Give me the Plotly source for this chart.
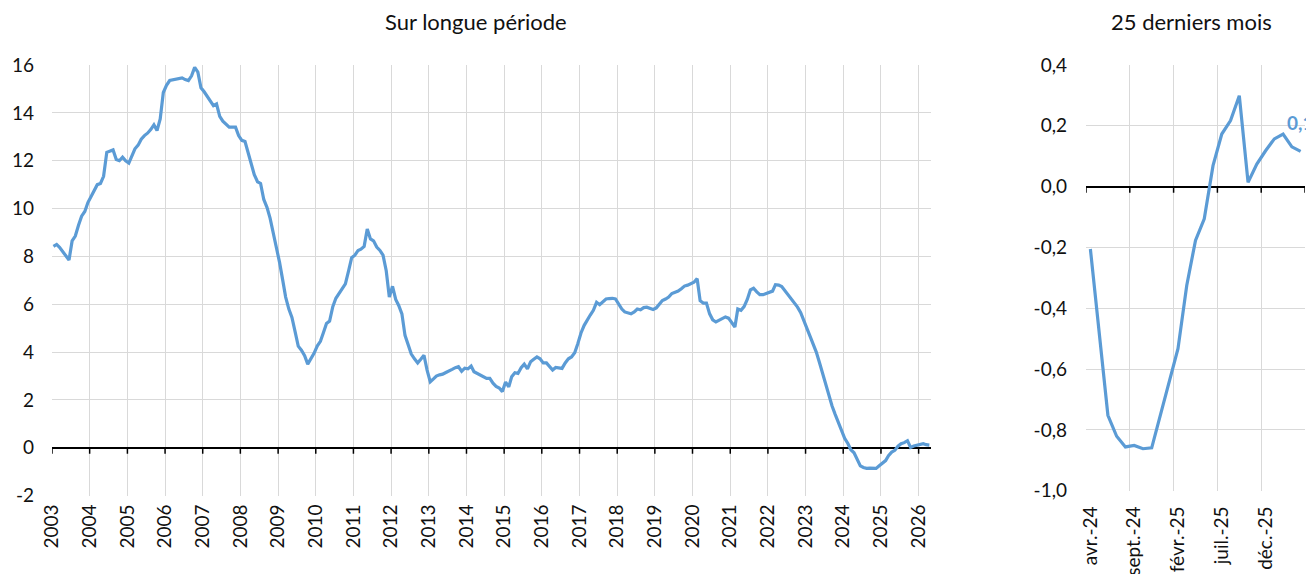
import pandas as pd
import plotly.graph_objects as go

# Monthly values, Jan 2003 -> Apr 2026 (one row per year)
monthly_values = [
    8.42, 8.5, 8.38, 8.2, 8.0, 7.85, 8.65, 8.85, 9.3, 9.68, 9.88, 10.25,          # 2003
    10.5, 10.75, 11.0, 11.05, 11.35, 12.35, 12.4, 12.45, 12.05, 12.0, 12.15, 12.0,  # 2004
    11.9, 12.2, 12.5, 12.65, 12.9, 13.05, 13.15, 13.3, 13.5, 13.26, 13.75, 14.85,  # 2005
    15.15, 15.35, 15.37, 15.42, 15.42, 15.46, 15.39, 15.35, 15.55, 15.9, 15.7, 15.05,  # 2006
    14.88, 14.68, 14.45, 14.3, 14.37, 13.85, 13.65, 13.52, 13.4, 13.4, 13.4, 13.05,  # 2007
    12.85, 12.8, 12.38, 11.95, 11.42, 11.12, 11.05, 10.38, 10.05, 9.6, 9.0, 8.45,  # 2008
    7.75, 7.0, 6.3, 5.8, 5.45, 4.85, 4.25, 4.08, 3.85, 3.5, 3.7, 3.95,  # 2009
    4.25, 4.45, 4.8, 5.2, 5.3, 5.9, 6.25, 6.45, 6.62, 6.85, 7.4, 7.95,  # 2010
    8.05, 8.25, 8.3, 8.42, 9.15, 8.73, 8.65, 8.39, 8.25, 8.05, 7.4, 6.3,  # 2011
    6.75, 6.2, 5.95, 5.6, 4.7, 4.3, 3.92, 3.72, 3.55, 3.7, 3.87, 3.25,  # 2012
    2.76, 2.88, 3.0, 3.05, 3.08, 3.15, 3.2, 3.28, 3.35, 3.39, 3.2, 3.33,  # 2013
    3.3, 3.42, 3.18, 3.1, 3.02, 2.95, 2.9, 2.9, 2.7, 2.57, 2.5, 2.35,  # 2014
    2.75, 2.55, 2.97, 3.14, 3.11, 3.35, 3.5, 3.3, 3.6, 3.7, 3.8, 3.72,  # 2015
    3.55, 3.55, 3.38, 3.25, 3.36, 3.33, 3.32, 3.55, 3.72, 3.8, 3.97, 4.35,  # 2016
    4.8, 5.12, 5.35, 5.55, 5.75, 6.08, 5.98, 6.12, 6.22, 6.24, 6.25, 6.22,  # 2017
    6.0, 5.8, 5.68, 5.63, 5.6, 5.68, 5.8, 5.77, 5.86, 5.88, 5.84, 5.78,  # 2018
    5.85, 6.0, 6.16, 6.22, 6.3, 6.45, 6.5, 6.55, 6.65, 6.76, 6.8, 6.85,  # 2019
    6.92, 7.07, 6.15, 6.05, 6.05, 5.6, 5.35, 5.26, 5.32, 5.4, 5.47, 5.42,  # 2020
    5.25, 5.05, 5.8, 5.75, 5.9, 6.2, 6.6, 6.67, 6.52, 6.4, 6.4, 6.45,  # 2021
    6.47, 6.55, 6.82, 6.8, 6.74, 6.57, 6.37, 6.22, 6.05, 5.88, 5.65, 5.28,  # 2022
    4.98, 4.65, 4.35, 4.0, 3.58, 3.1, 2.65, 2.22, 1.75, 1.4, 1.05, 0.7,  # 2023
    0.4, 0.18, -0.08, -0.205, -0.47, -0.752, -0.821, -0.856, -0.851, -0.862, -0.859, -0.75,  # 2024
    -0.64, -0.533, -0.325, -0.177, -0.106, 0.069, 0.173, 0.217, 0.299, 0.014, 0.074, 0.118,  # 2025
    0.157, 0.173, 0.131, 0.116,  # 2026
]

# Last 25 months (right panel)
recent_labels = [
    "avr.-24", "mai-24", "juin-24", "juil.-24", "août-24", "sept.-24", "oct.-24",
    "nov.-24", "déc.-24", "janv.-25", "févr.-25", "mars-25", "avr.-25", "mai-25",
    "juin-25", "juil.-25", "août-25", "sept.-25", "oct.-25", "nov.-25", "déc.-25",
    "janv.-26", "févr.-26", "mars-26", "avr.-26",
]
recent_values = monthly_values[-len(recent_labels):]

years = list(range(2003, 2027))
left_ticks = [-2, 0, 2, 4, 6, 8, 10, 12, 14, 16]
right_ticks = [-1.0, -0.8, -0.6, -0.4, -0.2, 0.0, 0.2, 0.4]
right_ticktext = [f"{v:.1f}".replace(".", ",") for v in right_ticks]
left_title = "Sur longue période"
right_title = "25 derniers mois"

BLUE = "#5B9BD5"
GRID = "#D9D9D9"
FONT = "Lato"
TXT = "#111111"

# the page adds an 8px body margin, so the figure is 8px smaller and
# every target pixel position is shifted by -8
OFF = 8
W, H = 1314 - OFF, 574 - OFF


def px(v):
    return (v - OFF) / W


def py(v):
    return 1 - (v - OFF) / H


dates = pd.date_range("2003-01-01", periods=len(monthly_values), freq="MS") + pd.Timedelta(days=14)
recent_x = list(range(len(recent_labels)))

fig = go.Figure()
fig.add_trace(go.Scatter(x=dates, y=monthly_values, mode="lines",
                         line=dict(color=BLUE, width=3.2), xaxis="x", yaxis="y",
                         hoverinfo="skip", showlegend=False))
fig.add_trace(go.Scatter(x=recent_x, y=recent_values, mode="lines",
                         line=dict(color=BLUE, width=3.2), xaxis="x2", yaxis="y2",
                         hoverinfo="skip", showlegend=False))

tickfont = dict(family=FONT, size=19, color=TXT)

fig.update_layout(
    xaxis=dict(domain=[px(52), px(931)], anchor="y", type="date", automargin=False,
               range=["2003-01-01", "2026-05-01"], tickmode="array",
               tickvals=[f"{y}-01-01" for y in years], ticktext=[str(y) for y in years],
               tickangle=-90, showgrid=True, gridcolor=GRID, gridwidth=1,
               showline=False, zeroline=False, ticks="", ticklabelstandoff=4,
               tickfont=tickfont),
    yaxis=dict(domain=[py(495.7), py(65)], anchor="x", range=[-2, 16], automargin=False,
               tickmode="array", tickvals=left_ticks, ticktext=[str(v) for v in left_ticks],
               showgrid=True, gridcolor=GRID, gridwidth=1, zeroline=True,
               zerolinecolor="#000000", zerolinewidth=1.5, showline=False, ticks="",
               ticklabelstandoff=17, tickfont=tickfont),
    xaxis2=dict(domain=[px(1086), px(1305)], anchor="y2", automargin=False,
                range=[-0.5, len(recent_labels) - 0.5],
                tickmode="array", tickvals=recent_x[::5], ticktext=recent_labels[::5],
                tickangle=-90, showgrid=False, showline=False, zeroline=False, ticks="",
                ticklabelstandoff=11,
                minor=dict(tickmode="array",
                           tickvals=[i - 0.5 for i in range(0, len(recent_labels) + 1, 5)],
                           showgrid=True, gridcolor=GRID, gridwidth=1, ticks=""),
                tickfont=tickfont),
    yaxis2=dict(domain=[py(490.7), py(65)], anchor="x2", range=[-1.0, 0.4],
                automargin=False,
                tickmode="array", tickvals=right_ticks, ticktext=right_ticktext,
                showgrid=True, gridcolor=GRID, gridwidth=1, zeroline=True,
                zerolinecolor="#000000", zerolinewidth=1.5, showline=False, ticks="",
                ticklabelstandoff=18, tickfont=tickfont),
)

shapes = []
for y in years:
    shapes.append(dict(type="line", xref="x", yref="y", x0=f"{y}-01-01", x1=f"{y}-01-01",
                       ysizemode="pixel", yanchor=0, y0=0, y1=-6,
                       line=dict(color="#000000", width=1.5)))
for i in range(0, len(recent_labels) + 1, 5):
    shapes.append(dict(type="line", xref="x2", yref="y2", x0=i - 0.5, x1=i - 0.5,
                       ysizemode="pixel", yanchor=0, y0=0, y1=-6,
                       line=dict(color="#000000", width=1.5)))

titlefont = dict(family=FONT, size=22, color=TXT)
annotations = [
    dict(text=left_title, xref="paper", yref="paper", x=px(476), y=py(22),
         showarrow=False, font=titlefont, xanchor="center", yanchor="middle"),
    dict(text=right_title, xref="paper", yref="paper", x=px(1191), y=py(22),
         showarrow=False, font=titlefont, xanchor="center", yanchor="middle"),
    dict(text="<b>" + f"{recent_values[-1]:.1f}".replace(".", ",") + "</b>",
         xref="x2", yref="y2", x=recent_x[-1], y=recent_values[-1], yshift=29, xshift=0,
         showarrow=False, font=dict(family=FONT, size=19, color=BLUE)),
]

fig.update_layout(width=W, height=H, margin=dict(l=0, r=0, t=0, b=0, autoexpand=False),
                  paper_bgcolor="white", plot_bgcolor="white",
                  shapes=shapes, annotations=annotations, showlegend=False)

fig.write_html("out.html")
